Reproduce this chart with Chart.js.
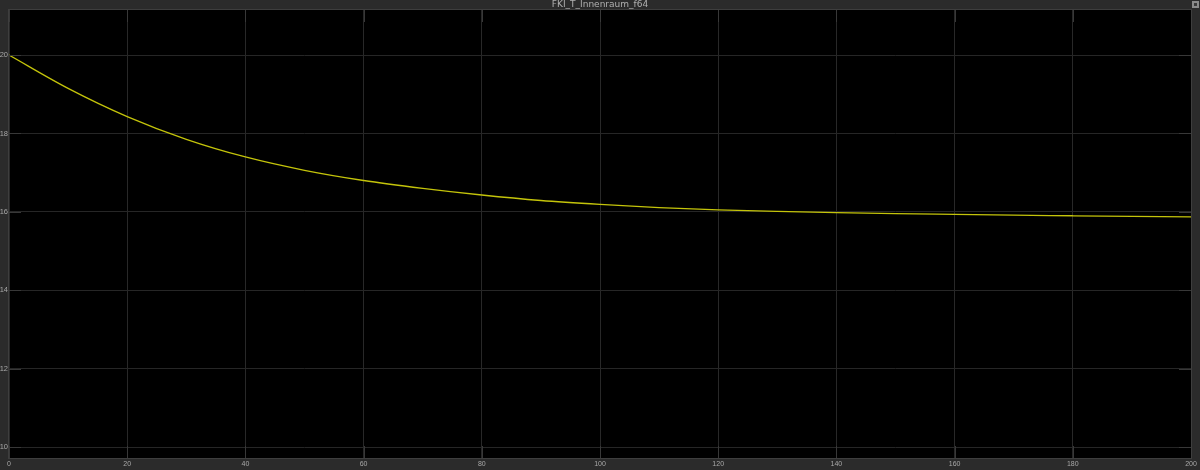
<!DOCTYPE html>
<html>
<head>
<meta charset="utf-8">
<title>FKI_T_Innenraum_f64</title>
<script src="https://cdn.jsdelivr.net/npm/chart.js@4.4.1/dist/chart.umd.min.js"></script>
<style>
  html, body { margin: 0; padding: 0; background: #2b2b2b; }
  #wrap { width: 1200px; height: 470px; position: relative; }
</style>
</head>
<body>
<div id="wrap"><canvas id="scope"></canvas></div>
<script>
// time axis (s) and signal values
var zeit = [0, 10, 20, 30, 40, 50, 60, 70, 80, 90, 100, 110, 120, 130, 140, 150, 160, 170, 180, 190, 200];
var temperatur = [20.0, 19.15, 18.43, 17.85, 17.40, 17.06, 16.80, 16.60, 16.43, 16.29, 16.19, 16.11, 16.05, 16.01, 15.98, 15.955, 15.935, 15.915, 15.90, 15.885, 15.87];
var xTicks = [0, 20, 40, 60, 80, 100, 120, 140, 160, 180, 200];
var yTicks = [10, 12, 14, 16, 18, 20];
var titel = "FKI_T_Innenraum_f64";

var punkte = zeit.map(function (t, i) { return { x: t, y: temperatur[i] }; });

// background, black plot area, frame, inner tick marks, little icon top right
var scopeLook = {
  id: 'scopeLook',
  beforeDraw: function (chart) {
    var c = chart.ctx, a = chart.chartArea;
    c.save();
    c.fillStyle = '#2b2b2b';
    c.fillRect(0, 0, chart.width, chart.height);
    c.fillStyle = '#000000';
    c.fillRect(a.left, a.top, a.right - a.left, a.bottom - a.top);
    c.restore();
  },
  afterDatasetsDraw: function (chart) {
    var c = chart.ctx, a = chart.chartArea;
    var xs = chart.scales.x, ys = chart.scales.y;
    c.save();
    c.strokeStyle = '#383838';
    c.lineWidth = 1;
    c.beginPath();
    yTicks.forEach(function (v) {
      var py = Math.round(ys.getPixelForValue(v)) + 0.5;
      c.moveTo(a.left, py); c.lineTo(a.left + 12, py);
      c.moveTo(a.right - 12, py); c.lineTo(a.right, py);
    });
    xTicks.forEach(function (v) {
      var px = Math.round(xs.getPixelForValue(v)) + 0.5;
      c.moveTo(px, a.top); c.lineTo(px, a.top + 12);
      c.moveTo(px, a.bottom - 12); c.lineTo(px, a.bottom);
    });
    c.stroke();
    c.strokeStyle = '#3e3e3e';
    c.strokeRect(a.left - 0.5, a.top - 0.5, a.right - a.left + 1, a.bottom - a.top + 1);
    // small undock icon
    c.fillStyle = '#8a8a8a';
    c.fillRect(1192, 1, 7, 7);
    c.fillStyle = '#3a3a3a';
    c.fillRect(1194, 3, 3, 3);
    c.restore();
  }
};

new Chart(document.getElementById('scope'), {
  type: 'line',
  data: {
    datasets: [{
      label: titel,
      data: punkte,
      borderColor: '#c4c40a',
      borderWidth: 1.3,
      pointRadius: 0,
      fill: false,
      cubicInterpolationMode: 'monotone'
    }]
  },
  options: {
    responsive: true,
    maintainAspectRatio: false,
    animation: false,
    layout: { padding: { left: 0, right: 9, top: 0, bottom: 0 } },
    plugins: {
      legend: { display: false },
      tooltip: { enabled: false },
      title: {
        display: true,
        fullSize: false,
        text: titel,
        color: '#b0b0b0',
        font: { family: 'DejaVu Sans', size: 9, weight: 'normal', lineHeight: 1 },
        padding: { top: 0, bottom: 1 }
      }
    },
    scales: {
      x: {
        type: 'linear',
        min: 0,
        max: 200,
        afterBuildTicks: function (s) { s.ticks = xTicks.map(function (v) { return { value: v }; }); },
        afterFit: function (s) { s.height = 12; },
        grid: { color: '#282828', drawTicks: false },
        border: { display: false },
        ticks: {
          color: '#a8a8a8',
          font: { family: 'Liberation Sans', size: 7 },
          padding: 2,
          maxRotation: 0,
          autoSkip: false
        }
      },
      y: {
        type: 'linear',
        min: 9.72,
        max: 21.15,
        afterBuildTicks: function (s) { s.ticks = yTicks.map(function (v) { return { value: v }; }); },
        afterFit: function (s) { s.width = 9; },
        grid: { color: '#262626', drawTicks: false },
        border: { display: false },
        ticks: {
          color: '#a8a8a8',
          font: { family: 'Liberation Sans', size: 7.5 },
          padding: 1,
          autoSkip: false
        }
      }
    }
  },
  plugins: [scopeLook]
});
</script>
</body>
</html>
